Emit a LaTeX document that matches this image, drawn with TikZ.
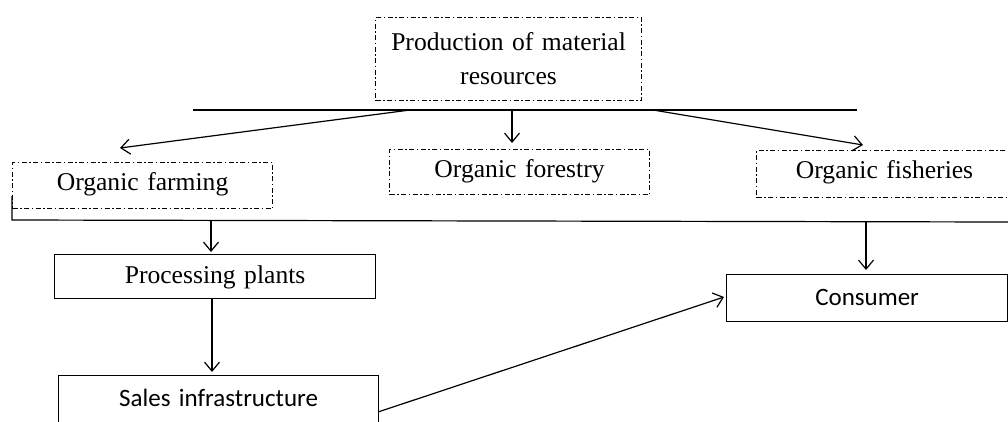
\documentclass[tikz,border=0pt]{standalone}
\usepackage{fontspec}
\setmainfont{Liberation Serif}
\newfontfamily\calfont{Carlito}
\usetikzlibrary{arrows.meta}
\begin{document}
\begin{tikzpicture}[x=1pt,y=-1pt,
  dd/.style={draw, line width=1.1pt, dash pattern=on 5pt off 2.5pt on 1.5pt off 2.5pt},
  sol/.style={draw, line width=1.2pt},
  box/.style={anchor=north west, inner sep=0pt, align=center},
  conn/.style={line width=1.2pt},
  arr/.style={line width=1.2pt, -{Straight Barb[length=9pt,width=15pt,line width=1.2pt]}},
  serif/.style={font=\fontsize{25.6}{34}\selectfont},
  cali/.style={font=\calfont\fontsize{25}{30}\selectfont}]
\clip (0,0) rectangle (1008,421);
\fill[white] (0,0) rectangle (1008,421);

% top box
\node[box, dd, serif, text width=266pt, minimum height=83pt] (prod) at (375,17)
  {Production of material\\resources};

% second row
\node[box, dd, serif, text width=260pt, text height=28pt, text depth=18pt] (farm) at (12,162) {Organic farming};
\node[box, dd, serif, text width=260pt, text height=28pt, text depth=17pt] (forest) at (389,149) {Organic forestry};
\node[box, dd, serif, text width=256pt, text height=28pt, text depth=19pt] (fish) at (756,150) {Organic fisheries};

% lower boxes
\node[box, sol, serif, text width=321pt, text height=29pt, text depth=15pt] (proc) at (54,254) {Processing plants};
\node[box, sol, cali, text width=320pt, text height=31pt, text depth=34pt] (sales) at (58,375) {Sales infrastructure};
\node[box, sol, cali, text width=281pt, text height=31pt, text depth=16pt] (cons) at (726,274) {Consumer};

% upper distribution line
\coordinate (hl) at (193,110);
\coordinate (hr) at (857,110);
\draw[conn] (hl) -- (hr);
\coordinate (s1) at (410,110);
\coordinate (e1) at (120,148);
\coordinate (s2) at (512,110);
\coordinate (e2) at (512,143);
\coordinate (s3) at (653,110);
\coordinate (e3) at (863,145);
\draw[arr] (s1) -- (e1);
\draw[arr] (s2) -- (e2);
\draw[arr] (s3) -- (e3);

% lower collecting line
\coordinate (la) at (12,196);
\coordinate (lb) at (12,220);
\coordinate (lc) at (1008,222);
\draw[conn] (la) -- (lb) -- (lc);
\coordinate (s4) at (211,220.4);
\coordinate (e4) at (211,252);
\draw[arr] (s4) -- (e4);
\coordinate (s5) at (866,221.7);
\coordinate (e5) at (866,270);
\draw[arr] (s5) -- (e5);

% processing -> sales
\coordinate (e6) at (212,372);
\draw[arr] (proc.south -| e6) -- (e6);

% sales -> consumer
\coordinate (s7) at (378,412);
\coordinate (e7) at (724,297);
\draw[arr] (s7) -- (e7);
\end{tikzpicture}
\end{document}
